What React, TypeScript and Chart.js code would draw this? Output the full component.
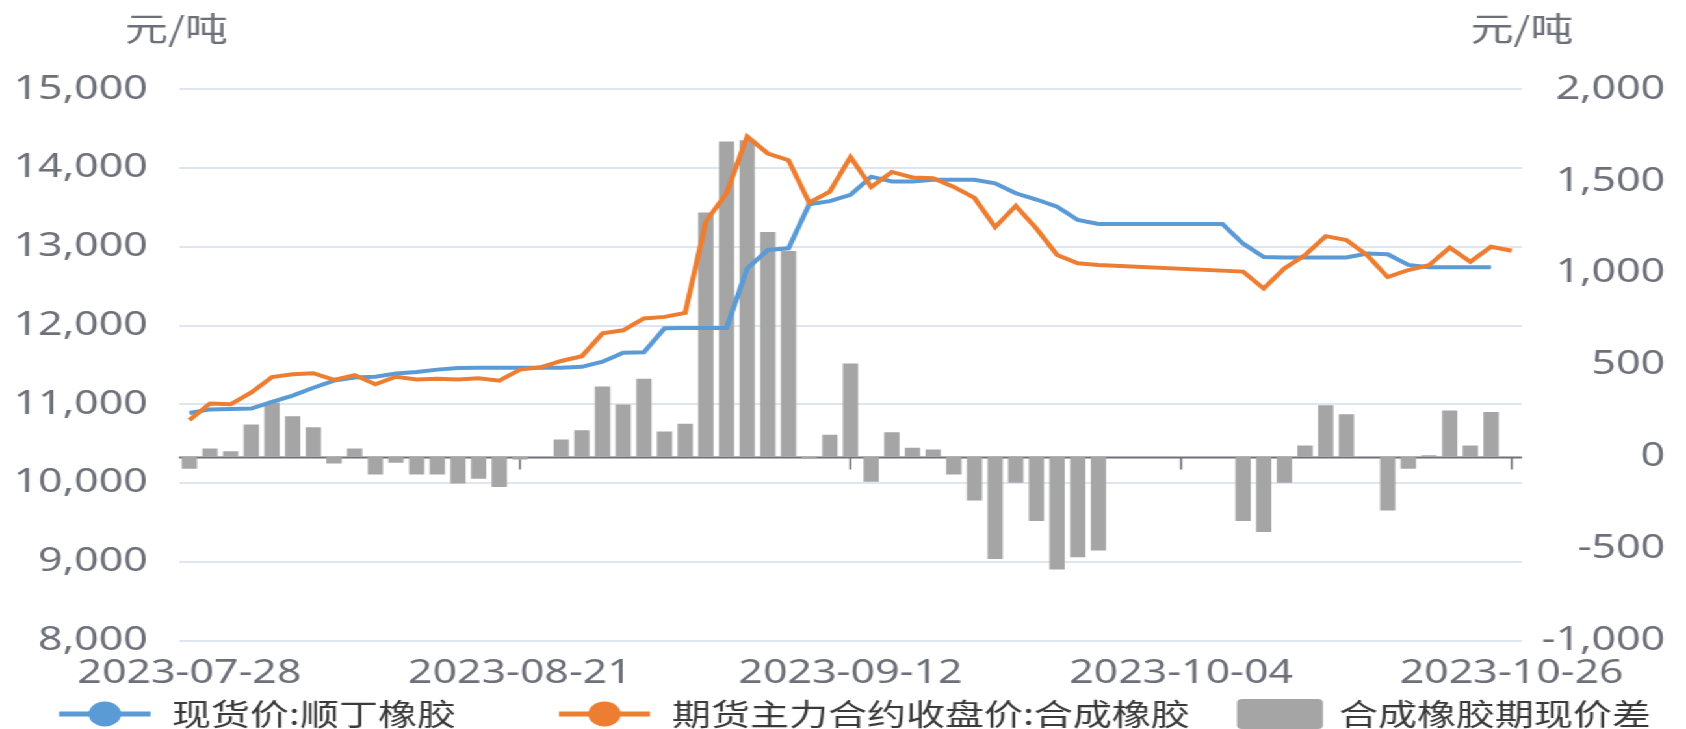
import React, { useEffect, useRef } from "react";
import { Chart, registerables } from "chart.js";

Chart.register(...registerables);

// ---------------- data ----------------
const dates: string[] = [
  "2023-07-28", "2023-07-31",
  "2023-08-01", "2023-08-02", "2023-08-03", "2023-08-04",
  "2023-08-07", "2023-08-08", "2023-08-09", "2023-08-10", "2023-08-11",
  "2023-08-14", "2023-08-15", "2023-08-16", "2023-08-17", "2023-08-18",
  "2023-08-21", "2023-08-22", "2023-08-23", "2023-08-24", "2023-08-25",
  "2023-08-28", "2023-08-29", "2023-08-30", "2023-08-31", "2023-09-01",
  "2023-09-04", "2023-09-05", "2023-09-06", "2023-09-07", "2023-09-08",
  "2023-09-11", "2023-09-12", "2023-09-13", "2023-09-14", "2023-09-15",
  "2023-09-18", "2023-09-19", "2023-09-20", "2023-09-21", "2023-09-22",
  "2023-09-25", "2023-09-26", "2023-09-27", "2023-09-28", "2023-09-29",
  "2023-10-02", "2023-10-03", "2023-10-04", "2023-10-05", "2023-10-06",
  "2023-10-09", "2023-10-10", "2023-10-11", "2023-10-12", "2023-10-13",
  "2023-10-16", "2023-10-17", "2023-10-18", "2023-10-19", "2023-10-20",
  "2023-10-23", "2023-10-24", "2023-10-25", "2023-10-26",
];

// 现货价:顺丁橡胶 (元/吨, left axis)
const spotPrice: (number | null)[] = [
  10890, 10935, 10940, 10945, 11030, 11110, 11210, 11300, 11340, 11350,
  11390, 11410, 11440, 11460, 11465, 11465, 11465, 11465, 11465, 11475,
  11540, 11655, 11660, 11965, 11970, 11970, 11970, 12725, 12960, 12980,
  13540, 13580, 13660, 13890, 13830, 13830, 13850, 13850, 13850, 13805,
  13680, 13600, 13510, 13340, 13290, 13290, 13290, 13290, 13290, 13290,
  13290, 13040, 12870, 12865, 12865, 12865, 12865, 12915, 12905, 12770,
  12740, 12740, 12740, 12740, null,
];

// 期货主力合约收盘价:合成橡胶 (元/吨, left axis)
const futuresPrice: (number | null)[] = [
  10800, 11010, 11000, 11150, 11345, 11380, 11395, 11310, 11370, 11255,
  11350, 11315, 11325, 11315, 11330, 11300, 11440, 11470, 11550, 11610,
  11900, 11940, 12090, 12110, 12160, 13320, 13680, 14400, 14185, 14100,
  13560, 13700, 14140, 13760, 13950, 13880, 13870, 13760, 13620, 13250,
  13520, 13230, 12895, 12790, 12770, null, null, null, null, null,
  null, 12685, 12470, 12725, 12895, 13135, 13085, 12895, 12615, 12705,
  12765, 12990, 12810, 13000, 12950,
];

// 合成橡胶期现价差 (元/吨, right axis)
const basisSpread: (number | null)[] = [
  -65, 45, 30, 175, 295, 220, 160, -37, 45, -96,
  -32, -96, -96, -145, -120, -165, -15, 0, 94, 145,
  382, 285, 425, 137, 180, 1330, 1716, 1723, 1224, 1120,
  -10, 120, 507, -136, 134, 49, 40, -96, -238, -556,
  -142, -350, -614, -547, -510, null, null, null, null, null,
  null, -350, -410, -142, 62, 281, 231, 0, -292, -65,
  8, 252, 62, 243, null,
];

const seriesNames = ["现货价:顺丁橡胶", "期货主力合约收盘价:合成橡胶", "合成橡胶期现价差"];
const unitTitle = "元/吨";
const leftRange = [8000, 15000];
const rightRange = [-1000, 2000];
const leftStep = 1000;
const rightStep = 500;
const labelEvery = 16;

// ---------------- layout / style ----------------
const SX = 1.3; // horizontal stretch of the whole picture
const W = 1297;
const H = 729;
const PLOT_LEFT = 137.7;
const PLOT_RIGHT = 1170.8;
const PLOT_TOP = 89.3;
const PLOT_BOTTOM = 640.5;
const RIGHT_LABEL_END = 1281;

const BLUE = "#5B9BD5";
const ORANGE = "#ED7D31";
const GRAY = "#A5A5A5";
const AXIS_TEXT = "#6E7079";
const GRID = "#E0E6F1";
const LEGEND_TEXT = "#3a3a3a";
const NUM_FONT = '"Noto Sans", "DejaVu Sans", sans-serif';
const CJK_FONT = '"Noto Sans CJK SC", "Noto Sans", sans-serif';

const LEGEND_Y = 714;
const LEGEND_POS = [
  { m0: 45.4, m1: 115.8, t: 132.3 },
  { m0: 430, m1: 500, t: 517 },
  { m0: 951.5, m1: 1017.7, t: 1030 },
];

const fmt = (v: any) => Number(v).toLocaleString("en-US");

const overlayPlugin = {
  id: "overlay",
  beforeDatasetsDraw(chart: any) {
    const { ctx, chartArea } = chart;
    const yR = chart.scales.yRight;
    const xs = chart.scales.x;
    const y0 = Math.round(yR.getPixelForValue(0)) + 0.5;
    ctx.save();
    ctx.strokeStyle = AXIS_TEXT;
    ctx.lineWidth = 2;
    ctx.beginPath();
    ctx.moveTo(chartArea.left, y0);
    ctx.lineTo(chartArea.right, y0);
    ctx.stroke();
    ctx.lineWidth = 1.5;
    dates.forEach((_, i) => {
      if (i > 0 && i % labelEvery === 0) {
        const px = xs.getPixelForValue(i);
        ctx.beginPath();
        ctx.moveTo(px, y0);
        ctx.lineTo(px, y0 + 12);
        ctx.stroke();
      }
    });
    ctx.restore();
  },
  afterDraw(chart: any) {
    const { ctx, chartArea } = chart;
    ctx.save();
    // axis unit titles
    ctx.fillStyle = AXIS_TEXT;
    ctx.font = `33px ${CJK_FONT}`;
    ctx.textAlign = "center";
    ctx.textBaseline = "middle";
    ctx.fillText(unitTitle, chartArea.left - 2, 28);
    ctx.fillText(unitTitle, chartArea.right, 28);

    // legend
    const dsets = chart.data.datasets;
    dsets.forEach((ds: any, i: number) => {
      const p = LEGEND_POS[i];
      if (ds.type === "line") {
        ctx.strokeStyle = ds.borderColor;
        ctx.lineWidth = 5;
        ctx.beginPath();
        ctx.moveTo(p.m0, LEGEND_Y);
        ctx.lineTo(p.m1, LEGEND_Y);
        ctx.stroke();
        ctx.fillStyle = ds.borderColor;
        ctx.beginPath();
        ctx.arc((p.m0 + p.m1) / 2, LEGEND_Y, 12.5, 0, Math.PI * 2);
        ctx.fill();
      } else {
        ctx.fillStyle = ds.backgroundColor;
        const w = p.m1 - p.m0;
        const h = 30;
        ctx.beginPath();
        (ctx as any).roundRect(p.m0, LEGEND_Y - h / 2, w, h, 4);
        ctx.fill();
      }
      ctx.fillStyle = LEGEND_TEXT;
      ctx.font = `30px ${CJK_FONT}`;
      ctx.textAlign = "left";
      ctx.textBaseline = "middle";
      ctx.fillText(ds.label, p.t, LEGEND_Y);
    });
    ctx.restore();
  },
};

export default function App() {
  const ref = useRef<HTMLCanvasElement>(null);

  useEffect(() => {
    if (!ref.current) return;
    const chart = new Chart(ref.current, {
      type: "bar",
      data: {
        labels: dates,
        datasets: [
          {
            type: "line",
            label: seriesNames[0],
            data: spotPrice,
            yAxisID: "yLeft",
            borderColor: BLUE,
            backgroundColor: BLUE,
            borderWidth: 4,
            pointRadius: 0,
            tension: 0,
            spanGaps: true,
            order: 1,
          } as any,
          {
            type: "line",
            label: seriesNames[1],
            data: futuresPrice,
            yAxisID: "yLeft",
            borderColor: ORANGE,
            backgroundColor: ORANGE,
            borderWidth: 4,
            pointRadius: 0,
            tension: 0,
            spanGaps: true,
            order: 0,
          } as any,
          {
            type: "bar",
            label: seriesNames[2],
            data: basisSpread,
            yAxisID: "yRight",
            backgroundColor: GRAY,
            borderWidth: 0,
            barPercentage: 0.74,
            categoryPercentage: 1,
            order: 2,
          } as any,
        ],
      },
      options: {
        responsive: false,
        animation: false,
        devicePixelRatio: 1,
        layout: { padding: { top: PLOT_TOP, left: 0, right: W - RIGHT_LABEL_END, bottom: 0 } },
        plugins: {
          legend: { display: false },
          tooltip: { enabled: false },
        },
        scales: {
          x: {
            type: "category",
            offset: true,
            grid: { display: false, drawTicks: false },
            border: { display: false },
            ticks: {
              autoSkip: false,
              maxRotation: 0,
              minRotation: 0,
              padding: 13,
              color: AXIS_TEXT,
              font: { family: NUM_FONT, size: 33 },
              callback: (_v: any, i: number) => (i % labelEvery === 0 ? dates[i] : ""),
            },
            afterFit: (s: any) => {
              s.height = H - PLOT_BOTTOM;
            },
          },
          yLeft: {
            type: "linear",
            position: "left",
            min: leftRange[0],
            max: leftRange[1],
            grid: { color: GRID, lineWidth: 2, drawTicks: false },
            border: { display: false },
            ticks: {
              stepSize: leftStep,
              padding: 24,
              color: AXIS_TEXT,
              font: { family: NUM_FONT, size: 33 },
              callback: fmt,
            },
            afterFit: (s: any) => {
              s.width = PLOT_LEFT;
            },
          },
          yRight: {
            type: "linear",
            position: "right",
            min: rightRange[0],
            max: rightRange[1],
            grid: { display: false, drawTicks: false },
            border: { display: false },
            ticks: {
              stepSize: rightStep,
              padding: 4,
              crossAlign: "far",
              color: AXIS_TEXT,
              font: { family: NUM_FONT, size: 33 },
              callback: fmt,
            },
            afterFit: (s: any) => {
              s.width = RIGHT_LABEL_END - PLOT_RIGHT;
            },
          },
        },
      } as any,
      plugins: [overlayPlugin],
    });
    return () => chart.destroy();
  }, []);

  return (
    <div
      style={{
        position: "absolute",
        left: 0,
        top: 0,
        width: W,
        height: H,
        overflow: "visible",
        transform: `scaleX(${SX})`,
        transformOrigin: "0 0",
        background: "#fff",
      }}
    >
      <canvas ref={ref} width={W} height={H} style={{ display: "block", width: W, height: H }} />
    </div>
  );
}
